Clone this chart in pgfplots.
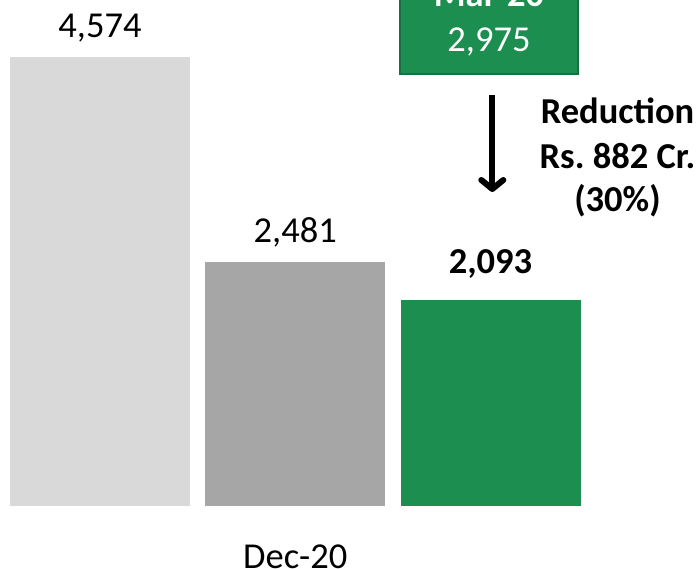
\documentclass[border=0pt]{standalone}
\usepackage{pgfplots}
\pgfplotsset{compat=1.18}
\usepackage{fontspec}
\setmainfont{Carlito}
\usetikzlibrary{arrows.meta}
\definecolor{lgray}{HTML}{D9D9D9}
\definecolor{mgray}{HTML}{A6A6A6}
\definecolor{bgreen}{HTML}{1B8E50}
\definecolor{dgreen}{HTML}{17703F}
\newcommand{\bigf}{\fontsize{36.5}{44}\selectfont}
\begin{document}
\frenchspacing
\begin{tikzpicture}[x=1pt,y=1pt]
\path[use as bounding box] (0,0) rectangle (700,568);
\begin{axis}[at={(0,0)}, anchor=south west, scale only axis, width=700pt, height=568pt,
 xmin=-0.5122, xmax=3.073, ymin=-638.1, ymax=5161,
 axis line style={draw=none}, major tick style={draw=none}, ytick=\empty,
 xtick={1}, xticklabels={Dec-20},
 xticklabel style={font=\bigf, anchor=base, yshift=3.5pt, inner sep=0pt},
 ybar, bar width=180pt, bar shift=0pt, clip=false,
 nodes near coords,
 /pgf/number format/assume math mode=true,
 /pgf/number format/1000 sep={,},
 /pgf/number format/fixed, /pgf/number format/precision=0,
 every node near coord/.append style={font=\bigf, anchor=base, inner sep=0pt, yshift=20pt, text=black},
]
\addplot[fill=lgray, draw=none] coordinates {(0,4574)};
\addplot[fill=mgray, draw=none] coordinates {(1,2481)};
\addplot[fill=bgreen, draw=none, every node near coord/.append style={font=\bfseries\bigf, yshift=7pt}] coordinates {(2,2093)};
\end{axis}
\draw[fill=bgreen, draw=dgreen, line width=2pt] (400,494) rectangle (578,620);
\node[text=white, font=\bfseries\bigf, anchor=base, inner sep=0pt] at (489,561) {Mar-20};
\node[text=white, font=\bigf, anchor=base, inner sep=0pt] at (489,516) {2,975};
\draw[line width=6pt, -{Straight Barb[length=9pt, width=22pt, round]}] (492.3,473) -- (492.3,376);
\node[font=\bfseries\bigf, anchor=base, inner sep=0pt] at (617.5,444) {Reduction};
\node[font=\bfseries\bigf, anchor=base, inner sep=0pt] at (617.5,399) {Rs.\ 882 Cr.};
\node[font=\bfseries\bigf, anchor=base, inner sep=0pt] at (617.5,356) {(30\%)};
\end{tikzpicture}
\end{document}
